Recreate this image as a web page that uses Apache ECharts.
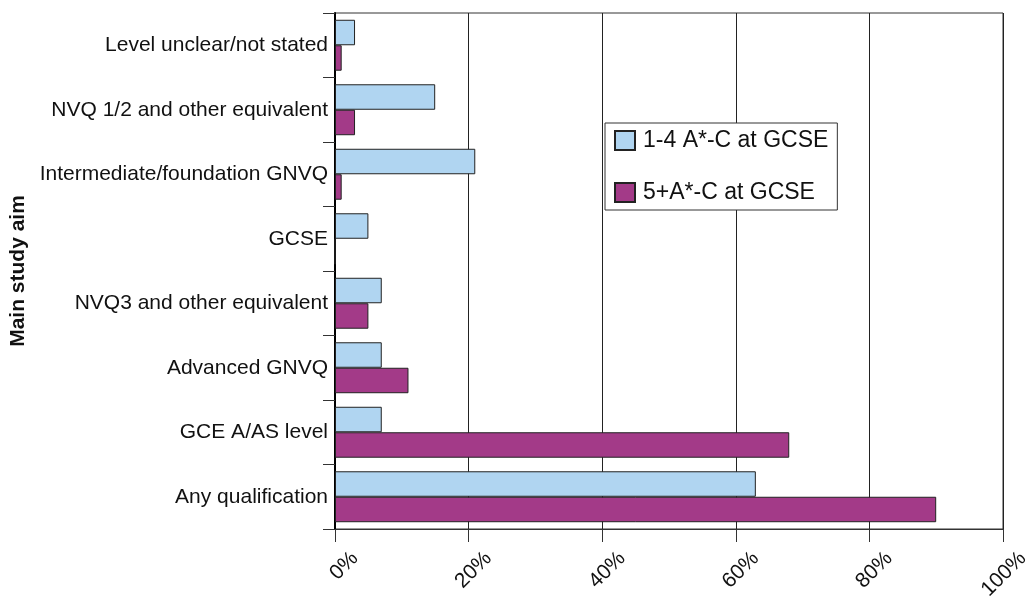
<!DOCTYPE html>
<html>
<head>
<meta charset="utf-8">
<script src="https://cdn.jsdelivr.net/npm/echarts@6/dist/echarts.min.js"></script>
<style>
html,body{margin:0;padding:0;background:#fff;}
#chart{width:1029px;height:596px;}
</style>
</head>
<body>
<div id="chart"></div>
<script>
const categories = [
  'Level unclear/not stated',
  'NVQ 1/2 and other equivalent',
  'Intermediate/foundation GNVQ',
  'GCSE',
  'NVQ3 and other equivalent',
  'Advanced GNVQ',
  'GCE A/AS level',
  'Any qualification'
];
const seriesNames = ['1-4 A*-C at GCSE', '5+A*-C at GCSE'];
const values14 = [3, 15, 21, 5, 7, 7, 7, 63];
const values5plus = [1, 3, 1, 0, 5, 11, 68, 90];
const xTicks = [0, 20, 40, 60, 80, 100];
const yTitle = 'Main study aim';

const font = 'Arial, "Liberation Sans", Helvetica, sans-serif';
const chart = echarts.init(document.getElementById('chart'), null, {renderer: 'canvas'});
chart.setOption({
  animation: false,
  backgroundColor: '#ffffff',
  textStyle: {fontFamily: font},
  grid: {
    left: 335, right: 26, top: 13, bottom: 67,
    outerBoundsMode: 'none',
    containLabel: false,
    show: true, borderColor: '#333', borderWidth: 1, backgroundColor: 'transparent'
  },
  legend: {
    orient: 'vertical',
    left: 605, top: 123,
    padding: [6, 9, 6, 9],
    itemWidth: 20, itemHeight: 19, itemGap: 29,
    backgroundColor: '#ffffff',
    borderColor: '#333', borderWidth: 1,
    icon: 'rect',
    textStyle: {fontFamily: font, fontSize: 23, color: '#111', lineHeight: 22, padding: [0, 0, 0, 3]},
    data: seriesNames
  },
  xAxis: {
    type: 'value',
    min: xTicks[0], max: xTicks[xTicks.length - 1], interval: 20,
    axisLine: {show: true, lineStyle: {color: '#333', width: 1}},
    axisTick: {show: true, length: 13, lineStyle: {color: '#333', width: 1}},
    splitLine: {show: true, lineStyle: {color: '#222', width: 1}},
    axisLabel: {
      formatter: '{value}%',
      rotate: 45,
      margin: 46,
      align: 'right',
      verticalAlign: 'middle',
      padding: [0, -28, 0, 0],
      fontFamily: font, fontSize: 21, color: '#111'
    }
  },
  yAxis: {
    type: 'category',
    inverse: true,
    data: categories,
    name: yTitle,
    nameLocation: 'middle',
    nameRotate: 90,
    nameGap: 305,
    nameTextStyle: {fontFamily: font, fontSize: 21, fontWeight: 'bold', color: '#111'},
    axisLine: {show: true, lineStyle: {color: '#000', width: 2}},
    axisTick: {show: true, length: 12, lineStyle: {color: '#333', width: 1}},
    axisLabel: {margin: 7, fontFamily: font, fontSize: 21, color: '#111'},
    splitLine: {show: false}
  },
  series: [
    {
      name: seriesNames[0], type: 'bar', data: values14,
      barGap: '0%', barCategoryGap: '21%',
      itemStyle: {color: '#b0d5f1', borderColor: '#222', borderWidth: 1}
    },
    {
      name: seriesNames[1], type: 'bar', data: values5plus,
      barGap: '0%', barCategoryGap: '21%',
      itemStyle: {color: '#a33a88', borderColor: '#222', borderWidth: 1}
    }
  ]
});
</script>
</body>
</html>
